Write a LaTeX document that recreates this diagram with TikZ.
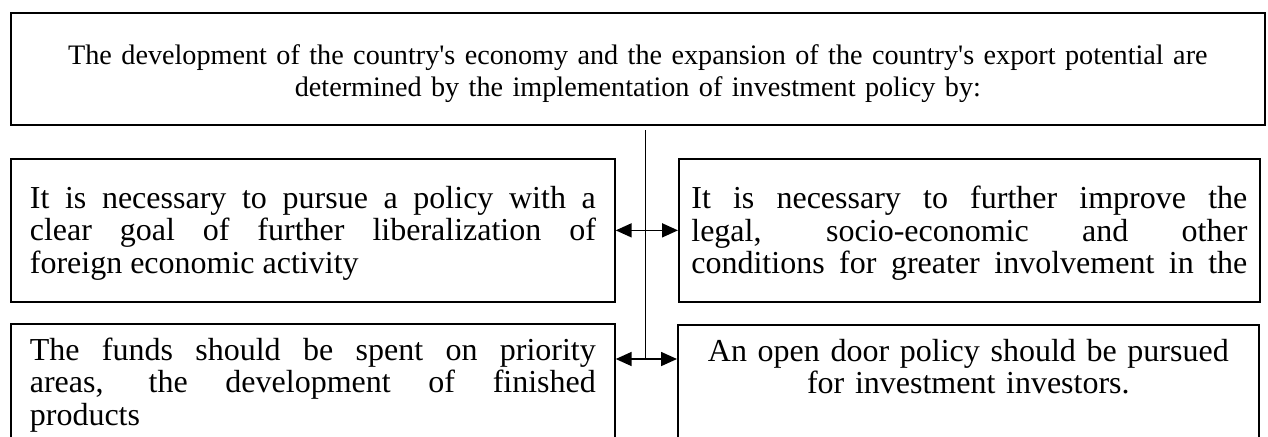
\documentclass[tikz,border=0pt]{standalone}
\usepackage{fontspec}
\setmainfont{Liberation Serif}
\usetikzlibrary{arrows.meta}

\begin{document}
\begin{tikzpicture}[x=0.5pt,y=-0.5pt,
    box/.style={draw,line width=0.85pt,anchor=north west,inner xsep=9pt,
      font=\fontsize{16}{16.25}\selectfont},
    head/.style={box,align=center,inner sep=0pt,text width=600pt,text depth=14pt,
      minimum width=627pt,minimum height=56pt,font=\fontsize{14.1}{16}\selectfont},
    part/.style={box,align=justify,text width=283pt,minimum width=302pt},
    rpart/.style={box,inner xsep=6pt,text width=278pt,minimum width=290.5pt},
    link/.style={line width=0.85pt,
      {Triangle[length=8pt,width=7pt]}-{Triangle[length=8pt,width=7pt]}}]
  \useasboundingbox (0,0) rectangle (1268,436);
  \clip (0,0) rectangle (1268,436);
    \node[head] (top) at (10,12) {The development of the country\textquotesingle s economy and the expansion of the country\textquotesingle s export potential are\\
      determined by the implementation of investment policy by:};
    \node[part,minimum height=71.5pt,text depth=33pt] (lt) at (10,158) {It is necessary to pursue a policy with a\linebreak
      clear goal of further liberalization of\linebreak foreign economic activity};
    \node[rpart,align=justify,minimum height=71.5pt,text depth=33pt] (rt) at (678,158) {It is necessary to further improve the\linebreak
      legal, socio-economic and other\linebreak
      conditions for greater involvement in the\parfillskip=0pt\par};
    \node[part,inner ysep=7pt,text depth=80pt] (lb) at (10,323) {The funds should be spent on priority\linebreak
      areas, the development of finished\linebreak products};
    \node[rpart,align=center,inner ysep=7pt,text depth=80pt] (rb) at (677,324) {An open door policy should be pursued\\
      for investment investors.};
    \coordinate (s1) at (645,130);
    \coordinate (s2) at (645,359);
    \draw[line width=0.4pt] (s1) -- (s2);
    \draw[link] (lt.east) -- (lt.east -| rt.west);
    \draw[link] (lb.east |- s2) -- (rb.west |- s2);
\end{tikzpicture}
\end{document}
